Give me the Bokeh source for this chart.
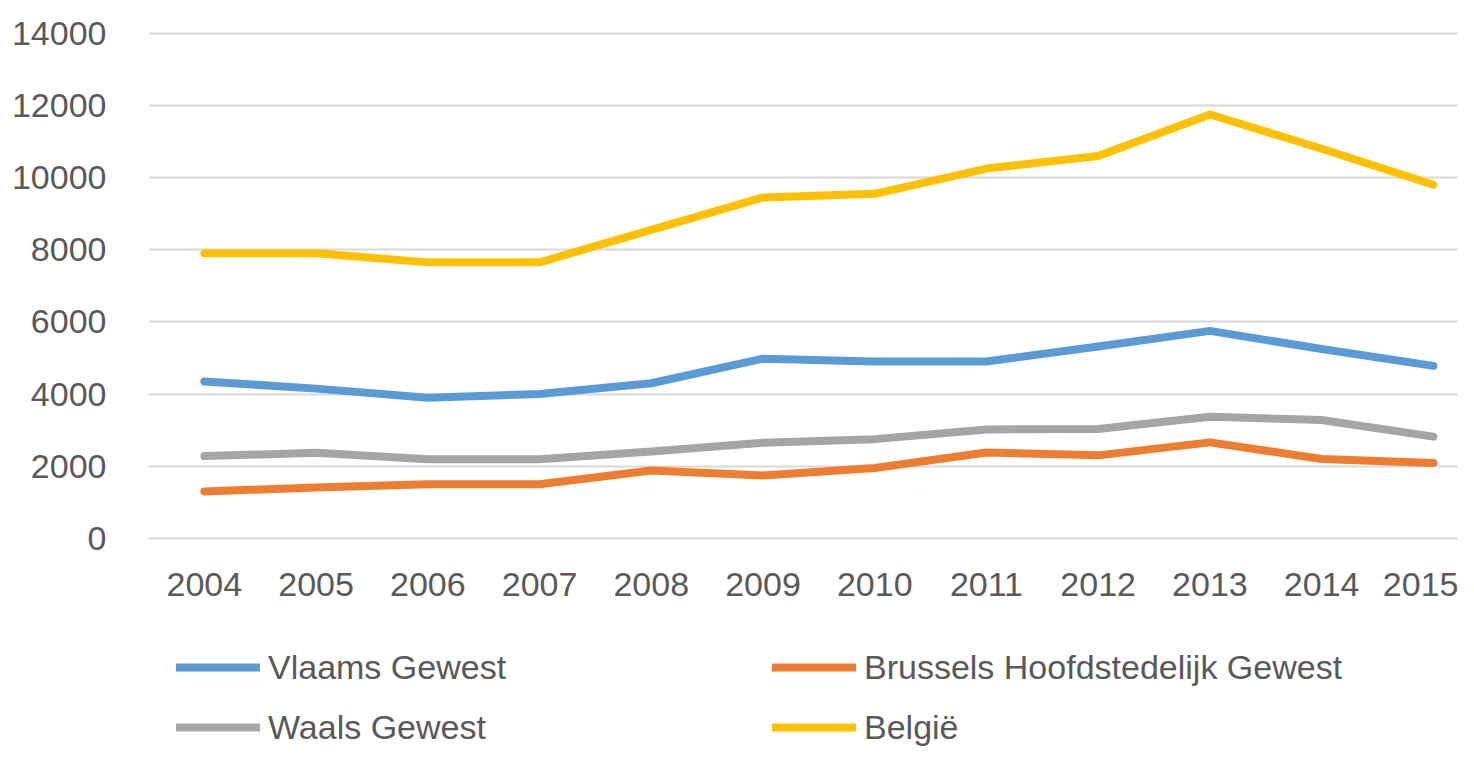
from bokeh.plotting import figure
from bokeh.models import Range1d, FixedTicker, Legend, LegendItem
from bokeh.layouts import column
from bokeh.embed import file_html
from bokeh.resources import INLINE

years = [2004, 2005, 2006, 2007, 2008, 2009, 2010, 2011, 2012, 2013, 2014, 2015]
vlaams = [4350, 4150, 3900, 4000, 4300, 4980, 4900, 4900, 5320, 5750, 5250, 4780]
brussels = [1300, 1410, 1500, 1500, 1880, 1740, 1950, 2380, 2300, 2660, 2200, 2090]
waals = [2280, 2370, 2190, 2190, 2410, 2650, 2750, 3020, 3030, 3370, 3280, 2820]
belgie = [7900, 7900, 7650, 7650, 8550, 9450, 9550, 10250, 10600, 11750, 10800, 9800]

series_names = ["Vlaams Gewest", "Brussels Hoofdstedelijk Gewest", "Waals Gewest", "België"]
series_values = [vlaams, brussels, waals, belgie]
series_colors = ["#5B9BD5", "#ED7D31", "#A5A5A5", "#FFC000"]
y_ticks = [0, 2000, 4000, 6000, 8000, 10000, 12000, 14000]

FONT = "Liberation Sans"
TXT = "#595959"
LW = 8

# ---- main chart ----
p = figure(width=1458, height=610, output_backend="svg", toolbar_location=None,
           x_range=Range1d(2003.5, 2015.225), y_range=Range1d(-60, 14050),
           min_border_left=148, min_border_right=0, min_border_top=31, min_border_bottom=70)
p.outline_line_color = None
p.background_fill_color = "white"
p.border_fill_color = "white"

for name, vals, col in zip(series_names, series_values, series_colors):
    p.line(years, vals, line_color=col, line_width=LW, line_cap="round", line_join="round")

p.xgrid.grid_line_color = None
p.ygrid.grid_line_color = "#D9D9D9"
p.ygrid.grid_line_width = 2
p.ygrid.ticker = FixedTicker(ticks=y_ticks)

p.yaxis.ticker = FixedTicker(ticks=y_ticks)
p.xaxis.ticker = FixedTicker(ticks=years)
for ax in (p.xaxis[0], p.yaxis[0]):
    ax.axis_line_color = None
    ax.major_tick_line_color = None
    ax.minor_tick_line_color = None
    ax.major_label_text_font = FONT
    ax.major_label_text_font_size = "34px"
    ax.major_label_text_color = TXT
p.yaxis.major_label_standoff = 36
p.xaxis.major_label_standoff = 26

# ---- legend strip ----
q = figure(width=1458, height=137, output_backend="svg", toolbar_location=None,
           x_range=Range1d(0, 1), y_range=Range1d(0, 1),
           min_border_left=0, min_border_right=0, min_border_top=0, min_border_bottom=0)
q.outline_line_color = None
q.axis.visible = False
q.grid.visible = False
q.border_fill_color = "white"

items = []
for name, col in zip(series_names, series_colors):
    # off-screen sample renderer, only used to draw the legend swatch
    r = q.line(x=[-5, -4], y=[-5, -5], line_color=col, line_width=LW, line_cap="round")
    items.append(LegendItem(label=name, renderers=[r]))

legend = Legend(items=items, orientation="horizontal", ncols=2,
                location=(28, 0), margin=0, padding=0,
                glyph_width=84, glyph_height=40, label_height=40,
                label_width=484, label_standoff=8, spacing=20,
                label_text_font=FONT, label_text_font_size="34px",
                label_text_color=TXT,
                border_line_color=None, background_fill_alpha=0)
q.add_layout(legend, "center")

layout = column(p, q, spacing=0)
open("out.html", "w").write(file_html(layout, INLINE))
